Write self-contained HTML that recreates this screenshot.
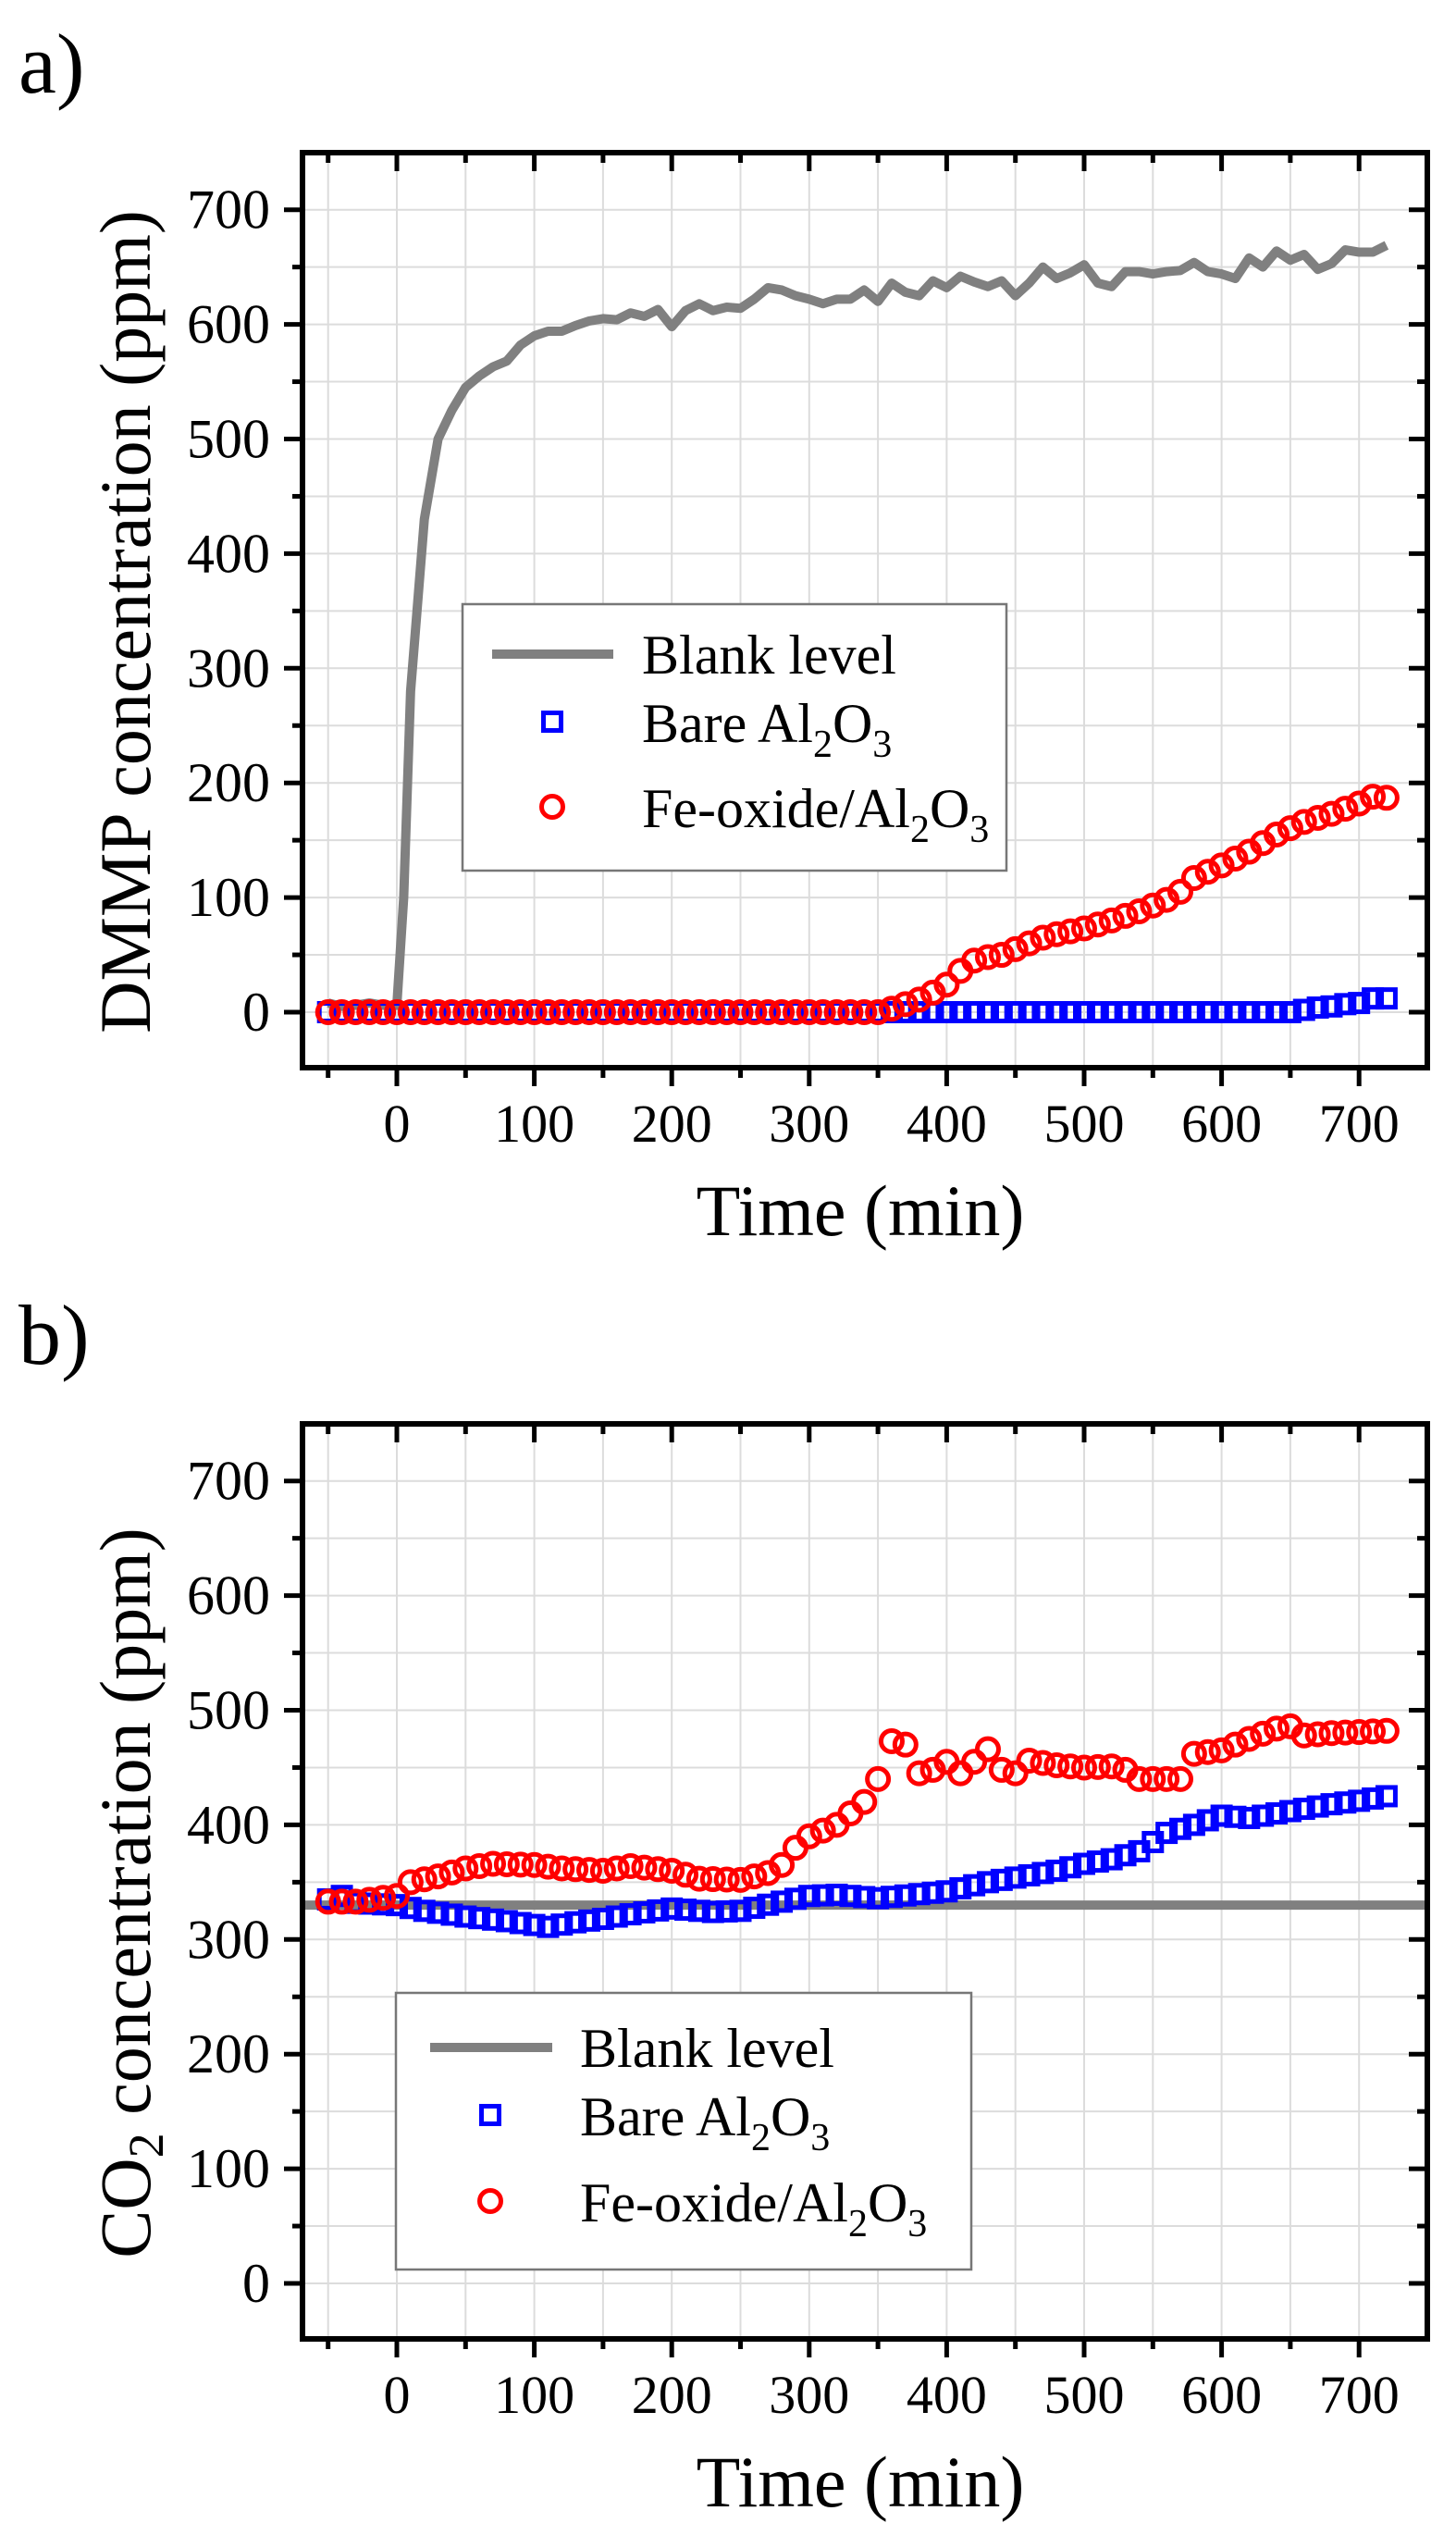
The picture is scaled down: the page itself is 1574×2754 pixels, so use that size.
<!DOCTYPE html>
<html><head><meta charset="utf-8"><style>
html,body{margin:0;padding:0;background:#fff;}
svg{display:block;font-family:"Liberation Serif",serif;}
</style></head><body>
<svg id="s" width="1574" height="2754" viewBox="0 0 1574 2754" xmlns="http://www.w3.org/2000/svg"></svg>
<script>
const S=document.getElementById('s');
let h='';
const X=v=>429+v*1.486;
function panel(off,lbl,ytitle,gray,blue,red,leg,flat){
  const Y=v=>1094+off-v*1.239;
  const L=327,R=1543,T=165+off,B=1154+off;
  for(let v=-50;v<=750;v+=50){const x=X(v);if(x>L+3&&x<R-3)h+=`<line x1="${x}" y1="${T}" x2="${x}" y2="${B}" stroke="#dcdcdc" stroke-width="2"/>`;}
  for(let v=-50;v<=750;v+=50){const y=Y(v);if(y>T+3&&y<B-3)h+=`<line x1="${L}" y1="${y}" x2="${R}" y2="${y}" stroke="#dcdcdc" stroke-width="2"/>`;}
  if(flat){h+=`<line x1="${L}" y1="${Y(330)}" x2="${R}" y2="${Y(330)}" stroke="#808080" stroke-width="10"/>`;}
  else{h+=`<polyline fill="none" stroke="#808080" stroke-width="10" stroke-linejoin="round" points="${gray.map(p=>X(p[0])+','+Y(p[1])).join(' ')}"/>`;}
  const interp=(pts,t)=>{for(let i=0;i<pts.length-1;i++){if(t>=pts[i][0]&&t<=pts[i+1][0]){const f=(t-pts[i][0])/(pts[i+1][0]-pts[i][0]);return pts[i][1]+f*(pts[i+1][1]-pts[i][1]);}}return pts[pts.length-1][1];};
  for(let t=-50;t<=720;t+=10){const y=Y(interp(blue,t));h+=`<rect x="${X(t)-9.5}" y="${y-9.5}" width="19" height="19" fill="none" stroke="#0000ff" stroke-width="5"/>`;}
  for(let t=-50;t<=720;t+=10){const y=Y(interp(red,t));h+=`<circle cx="${X(t)}" cy="${y}" r="11.5" fill="none" stroke="#ff0000" stroke-width="5"/>`;}
  h+=`<rect x="${leg.x}" y="${leg.y+off}" width="${leg.w}" height="${leg.h}" fill="#fff" stroke="#777" stroke-width="2.5"/>`;
  const ly=leg.y+off;
  h+=`<line x1="${leg.lx1}" y1="${ly+leg.r1}" x2="${leg.lx2}" y2="${ly+leg.r1}" stroke="#808080" stroke-width="10"/>`;
  h+=`<rect x="${leg.mx-9.5}" y="${ly+leg.r2-9.5}" width="19" height="19" fill="none" stroke="#0000ff" stroke-width="5"/>`;
  h+=`<circle cx="${leg.mx}" cy="${ly+leg.r3}" r="11.5" fill="none" stroke="#ff0000" stroke-width="5"/>`;
  h+=`<text x="${leg.tx}" y="${ly+leg.r1+21}" font-size="60">Blank level</text>`;
  h+=`<text x="${leg.tx}" y="${ly+leg.r2+22}" font-size="60">Bare Al<tspan font-size="42" dy="16">2</tspan><tspan dy="-16">O</tspan><tspan font-size="42" dy="16">3</tspan></text>`;
  h+=`<text x="${leg.tx}" y="${ly+leg.r3+22}" font-size="60">Fe-oxide/Al<tspan font-size="42" dy="16">2</tspan><tspan dy="-16">O</tspan><tspan font-size="42" dy="16">3</tspan></text>`;
  h+=`<rect x="${L}" y="${T}" width="${R-L}" height="${B-T}" fill="none" stroke="#000" stroke-width="6"/>`;
  for(let v=-50;v<=750;v+=50){const x=X(v);if(x<L||x>R)continue;const maj=v%100==0;const len=maj?20:11;
    h+=`<line x1="${x}" y1="${B}" x2="${x}" y2="${B+len}" stroke="#000" stroke-width="5"/>`;
    h+=`<line x1="${x}" y1="${T}" x2="${x}" y2="${T+len}" stroke="#000" stroke-width="5"/>`;
    if(maj&&v>=0&&v<=700)h+=`<text x="${x}" y="${B+80}" font-size="58" text-anchor="middle">${v}</text>`;}
  for(let v=-50;v<=750;v+=50){const y=Y(v);if(y<T||y>B)continue;const maj=v%100==0;const len=maj?20:11;
    h+=`<line x1="${L}" y1="${y}" x2="${L-len}" y2="${y}" stroke="#000" stroke-width="5"/>`;
    h+=`<line x1="${R}" y1="${y}" x2="${R-len}" y2="${y}" stroke="#000" stroke-width="5"/>`;
    if(maj&&v>=0&&v<=700)h+=`<text x="292" y="${y+20}" font-size="60" text-anchor="end">${v}</text>`;}
  h+=`<text x="930" y="${1335+off}" font-size="78" text-anchor="middle">Time (min)</text>`;
  h+=`<text transform="translate(162,${672+off}) rotate(-90)" font-size="78" text-anchor="middle">${ytitle}</text>`;
  h+=`<text x="20" y="${100+off}" font-size="92">${lbl}</text>`;
}
const grayA=[[-50,8],[-40,5],[-30,6],[-20,8],[-10,6],[0,6],[5,100],[10,280],[20,430],[30,500],[40,525],[50,545],[60,555],[70,563],[80,568],[90,582],[100,590],[110,594],[120,594],[130,599],[140,603],[150,605],[160,604],[170,610],[180,607],[190,613],[200,598],[210,612],[220,618],[230,612],[240,615],[250,614],[260,622],[270,632],[280,630],[290,625],[300,622],[310,618],[320,622],[330,622],[340,630],[350,620],[360,636],[370,628],[380,625],[390,638],[400,632],[410,642],[420,637],[430,633],[440,638],[450,625],[460,636],[470,650],[480,640],[490,645],[500,652],[510,636],[520,633],[530,646],[540,646],[550,644],[560,646],[570,647],[580,654],[590,646],[600,644],[610,640],[620,658],[630,650],[640,664],[650,656],[660,661],[670,648],[680,653],[690,665],[700,663],[710,663],[720,669]];
const blueA=[[-50,0],[650,0],[660,2],[670,4],[680,5],[690,7],[700,8],[710,12],[720,12]];
const redA=[[-50,0],[350,0],[360,3],[370,7],[380,11],[390,17],[400,24],[410,36],[420,45],[430,48],[440,50],[450,55],[460,60],[470,65],[480,68],[500,73],[520,80],[540,88],[560,98],[570,105],[580,117],[600,128],[620,140],[640,155],[660,166],[680,173],[700,182],[710,188],[720,187]];
panel(0,'a)','DMMP concentration (ppm)',grayA,blueA,redA,{x:500,y:653,w:588,h:288,lx1:532,lx2:663,r1:54,r2:127,r3:219,mx:597,tx:694},false);
const blueB=[[-50,335],[-40,338],[-30,332],[0,330],[20,325],[50,320],[80,316],[110,311],[130,315],[150,318],[170,322],[200,327],[230,324],[250,325],[280,333],[300,338],[320,339],[350,336],[400,342],[430,350],[450,354],[480,360],[500,366],[520,370],[540,377],[550,385],[560,393],[580,400],[600,408],[620,406],[650,412],[680,418],[700,421],[720,425]];
const redB=[[-50,333],[-30,333],[0,338],[10,350],[30,355],[50,362],[70,366],[100,365],[120,362],[150,360],[170,364],[200,360],[220,353],[250,352],[270,358],[280,365],[290,380],[300,390],[320,400],[340,420],[350,440],[360,473],[370,470],[380,445],[390,448],[400,455],[410,445],[420,455],[430,466],[440,448],[450,445],[460,456],[480,452],[500,450],[520,451],[530,448],[540,440],[570,440],[580,462],[600,465],[620,475],[640,484],[650,486],[660,478],[680,480],[720,482]];
panel(1374,'b)','CO<tspan font-size="54" dy="14">2</tspan><tspan dy="-14"> concentration (ppm)</tspan>',null,blueB,redB,{x:428,y:780,w:622,h:299,lx1:465,lx2:597,r1:59,r2:132,r3:225,mx:530,tx:627},true);
S.innerHTML=h;
</script>
</body></html>
